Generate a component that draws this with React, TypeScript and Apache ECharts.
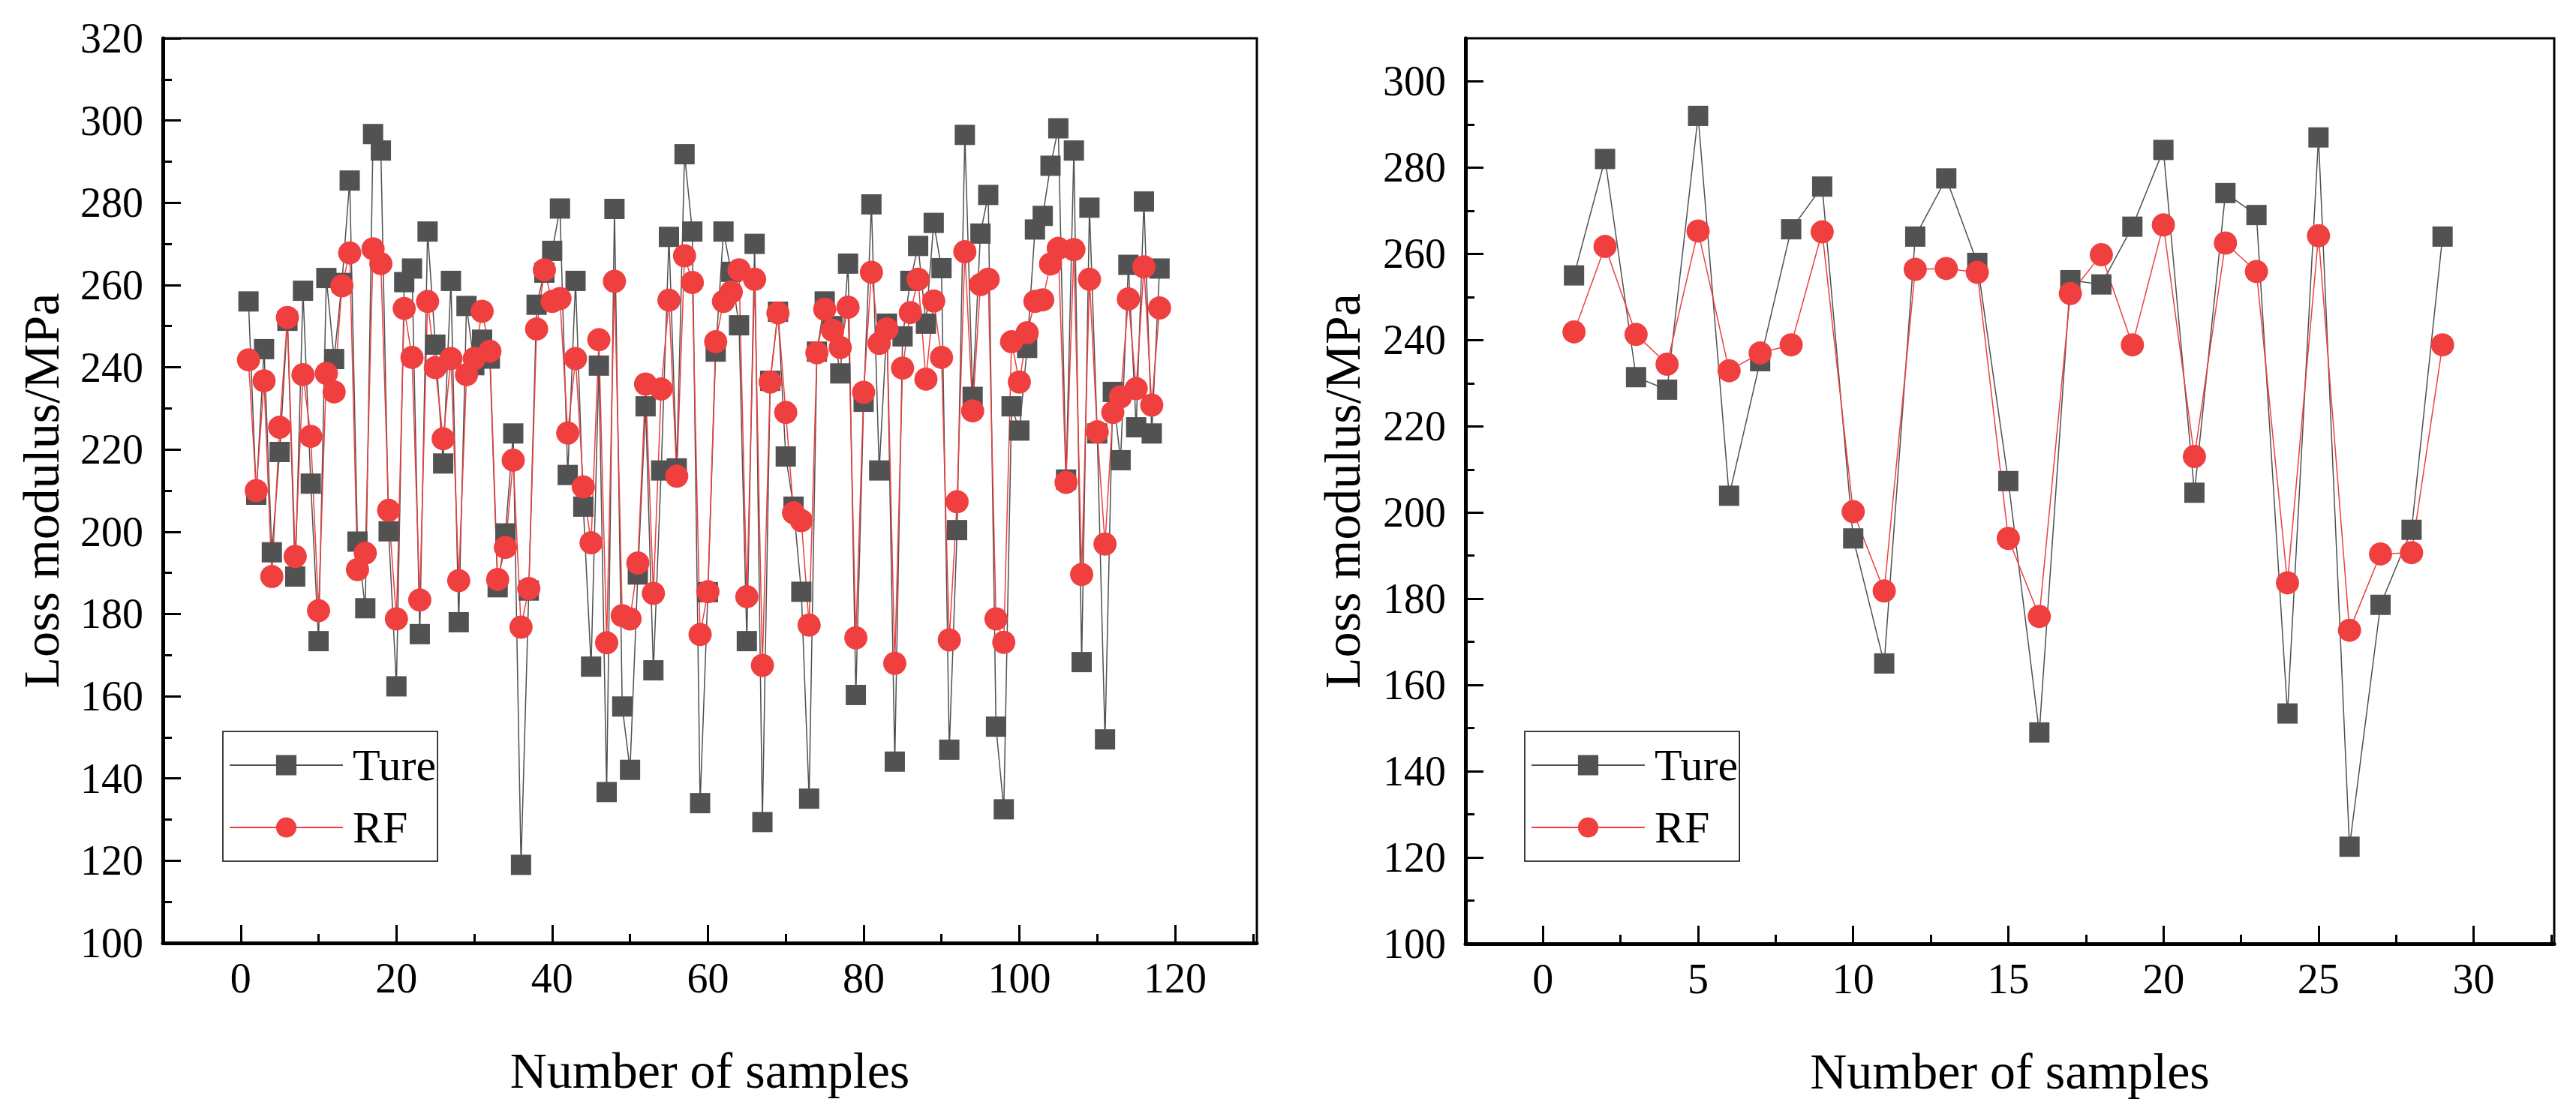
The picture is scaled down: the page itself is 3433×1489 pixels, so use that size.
import React, { useEffect, useRef } from 'react';
import * as echarts from 'echarts';

// Left panel (118 samples)
const leftTure = [
  256, 209, 244.4, 195, 219.4, 251.3, 189.1, 258.6, 211.7, 173.4,
  261.7, 242, 260.5, 285.4, 197.6, 181.4, 296.7, 292.7, 200.1, 162.4,
  260.7, 264, 175.1, 273, 245.5, 216.6, 261, 178, 254.9, 240.5,
  246.7, 242.1, 186.5, 199.6, 223.9, 119, 185.7, 255.2, 263, 268.3,
  278.6, 213.8, 261, 206.1, 167.2, 240.4, 136.7, 278.5, 157.5, 142.1,
  189.6, 230.5, 166.3, 214.9, 271.7, 215.4, 291.8, 273, 134, 185.3,
  243.8, 273, 263.2, 250.2, 173.4, 270, 129.4, 236.7, 253.5, 218.3,
  206.1, 185.4, 135.1, 243.8, 256, 250, 238.5, 265.2, 160.3, 231.6,
  279.6, 214.9, 250.6, 144.1, 247.5, 261, 269.5, 250.6, 275.1, 264.1,
  147, 200.4, 296.5, 232.8, 272.5, 281.9, 152.6, 132.5, 230.5, 224.6,
  244.7, 273.5, 276.8, 289, 298.1, 212.7, 292.7, 168.3, 278.8, 223.9,
  149.5, 234, 217.4, 264.9, 225.4, 280.3, 223.9, 264,
];
const leftRF = [
  241.8, 210, 236.7, 189.1, 225.4, 252.1, 194, 238.2, 223.2, 180.8,
  238.5, 234, 259.8, 267.8, 190.8, 194.8, 268.8, 265.2, 205.2, 178.8,
  254.3, 242.4, 183.4, 256, 239.9, 222.6, 242.1, 188.1, 238.2, 242.1,
  253.6, 243.9, 188.4, 196.2, 217.4, 176.8, 186.2, 249.3, 263.7, 256,
  256.7, 224, 242.1, 210.9, 197.3, 246.7, 173, 260.9, 179.6, 178.8,
  192.4, 235.9, 185, 234.7, 256.3, 213.5, 267.1, 260.6, 175, 185.4,
  246.2, 256, 258.3, 263.7, 184.2, 261.4, 167.5, 236.4, 253.2, 229,
  204.6, 202.7, 177.3, 243.5, 254.1, 249, 244.8, 254.6, 174.2, 233.9,
  263.1, 245.8, 249.3, 168, 239.8, 253.3, 261.4, 237.1, 256.1, 242.4,
  173.7, 207.3, 268.1, 229.4, 260.1, 261.4, 178.8, 173.1, 246.2, 236.4,
  248.4, 256, 256.4, 265.1, 268.9, 212, 268.6, 189.6, 261.4, 224.3,
  197, 229, 232.8, 256.6, 234.8, 264.4, 230.8, 254.4,
];

// Right panel (29 samples)
const rightTure = [
  255, 282, 231.4, 228.5, 292, 203.9, 235.1, 265.7, 275.6, 194,
  165, 264, 277.5, 257.9, 207.3, 149, 253.9, 252.9, 266.3, 284.1,
  204.6, 274.1, 269, 153.4, 287, 122.5, 178.6, 196, 264,
];
const rightRF = [
  241.9, 261.7, 241.3, 234.4, 265.3, 232.9, 237, 238.9, 265.1, 200.2,
  181.8, 256.4, 256.6, 255.7, 194, 175.9, 250.8, 259.8, 238.9, 266.7,
  213, 262.5, 255.9, 183.7, 264.2, 172.7, 190.4, 190.7, 238.9,
];

// Tick values
const leftXMajor = [0, 20, 40, 60, 80, 100, 120];
const leftXMinor = [10, 30, 50, 70, 90, 110, 130];
const leftYMajor = [100, 120, 140, 160, 180, 200, 220, 240, 260, 280, 300, 320];
const leftYMinor = [110, 130, 150, 170, 190, 210, 230, 250, 270, 290, 310];
const rightXMajor = [0, 5, 10, 15, 20, 25, 30];
const rightXMinor = [2.5, 7.5, 12.5, 17.5, 22.5, 27.5, 32.5];
const rightYMajor = [100, 120, 140, 160, 180, 200, 220, 240, 260, 280, 300];
const rightYMinor = [110, 130, 150, 170, 190, 210, 230, 250, 270, 290];

const seriesNames = ['Ture', 'RF'];
const xTitle = 'Number of samples';
const yTitle = 'Loss modulus/MPa';

const FONT = "'Liberation Serif', 'Times New Roman', serif";
const GRAY = '#505050';
const RED = '#ef3f3f';

function toPairs(vals: number[]) {
  return vals.map((v, i) => [i + 1, v]);
}

function xAxes(gridIndex: number, min: number, max: number, major: number[], minor: number[]) {
  return [
    {
      type: 'value', gridIndex, min, max, position: 'bottom',
      name: xTitle, nameLocation: 'middle', nameGap: 136,
      nameTextStyle: { fontFamily: FONT, fontSize: 68, color: '#000' },
      axisLine: { show: true, onZero: false, lineStyle: { color: '#000', width: 5 } },
      axisTick: { show: true, inside: true, length: 24, customValues: major, lineStyle: { color: '#000', width: 3 } },
      axisLabel: { show: true, customValues: major, margin: 19, fontFamily: FONT, fontSize: 56, color: '#000' },
      splitLine: { show: false },
    },
    {
      type: 'value', gridIndex, min, max, position: 'bottom',
      axisLine: { show: false, onZero: false },
      axisTick: { show: true, inside: true, length: 12, customValues: minor, lineStyle: { color: '#000', width: 3 } },
      axisLabel: { show: false },
      splitLine: { show: false },
    },
  ];
}

function yAxes(gridIndex: number, min: number, max: number, major: number[], minor: number[], gap: number) {
  return [
    {
      type: 'value', gridIndex, min, max, position: 'left',
      name: yTitle, nameLocation: 'middle', nameGap: gap, nameRotate: 90,
      nameTextStyle: { fontFamily: FONT, fontSize: 68, color: '#000' },
      axisLine: { show: true, onZero: false, lineStyle: { color: '#000', width: 5 } },
      axisTick: { show: true, inside: true, length: 24, customValues: major, lineStyle: { color: '#000', width: 3 } },
      axisLabel: { show: true, customValues: major, margin: 26, fontFamily: FONT, fontSize: 56, color: '#000' },
      splitLine: { show: false },
    },
    {
      type: 'value', gridIndex, min, max, position: 'left',
      axisLine: { show: false, onZero: false },
      axisTick: { show: true, inside: true, length: 12, customValues: minor, lineStyle: { color: '#000', width: 3 } },
      axisLabel: { show: false },
      splitLine: { show: false },
    },
  ];
}

function makeSeries(xIdx: number, yIdx: number, ture: number[], rf: number[]) {
  return [
    {
      name: seriesNames[0], type: 'line', xAxisIndex: xIdx, yAxisIndex: yIdx,
      data: toPairs(ture), symbol: 'rect', symbolSize: 27,
      lineStyle: { color: GRAY, width: 1.5 },
      itemStyle: { color: '#525252' },
    },
    {
      name: seriesNames[1], type: 'line', xAxisIndex: xIdx, yAxisIndex: yIdx,
      data: toPairs(rf), symbol: 'circle', symbolSize: 31,
      lineStyle: { color: RED, width: 1.5 },
      itemStyle: { color: RED },
    },
  ];
}

function legendAt(left: number) {
  return {
    left, top: 975, orient: 'vertical', selectedMode: false,
    data: seriesNames,
    padding: [15, 2, 15, 8], itemGap: 23, itemWidth: 151, itemHeight: 34,
    borderColor: '#000', borderWidth: 1.5, backgroundColor: '#fff',
    textStyle: { fontFamily: FONT, fontSize: 60, color: '#000', padding: [0, 0, 0, 8] },
  };
}

export default function App() {
  const ref = useRef<HTMLDivElement>(null);
  useEffect(() => {
    if (!ref.current) return;
    const chart = echarts.init(ref.current, undefined, { renderer: 'svg' });
    const gridStyle = { show: true, borderColor: '#000', borderWidth: 3, backgroundColor: 'transparent', containLabel: false };
    chart.setOption({
      animation: false,
      backgroundColor: '#fff',
      textStyle: { fontFamily: FONT },
      grid: [
        { ...gridStyle, left: 217, top: 51, width: 1458, height: 1206 },
        { ...gridStyle, left: 1953, top: 51, width: 1451, height: 1207 },
      ],
      xAxis: [
        ...xAxes(0, -10, 130.5, leftXMajor, leftXMinor),
        ...xAxes(1, -2.5, 32.6, rightXMajor, rightXMinor),
      ],
      yAxis: [
        ...yAxes(0, 100, 320, leftYMajor, leftYMinor, 128),
        ...yAxes(1, 100, 310, rightYMajor, rightYMinor, 130),
      ],
      legend: [legendAt(297), legendAt(2032)],
      series: [
        ...makeSeries(0, 0, leftTure, leftRF),
        ...makeSeries(2, 2, rightTure, rightRF),
      ],
    });
    return () => chart.dispose();
  }, []);
  return (
    <div
      ref={ref}
      style={{ position: 'fixed', left: 0, top: 0, width: 3433, height: 1489, background: '#fff' }}
    />
  );
}
